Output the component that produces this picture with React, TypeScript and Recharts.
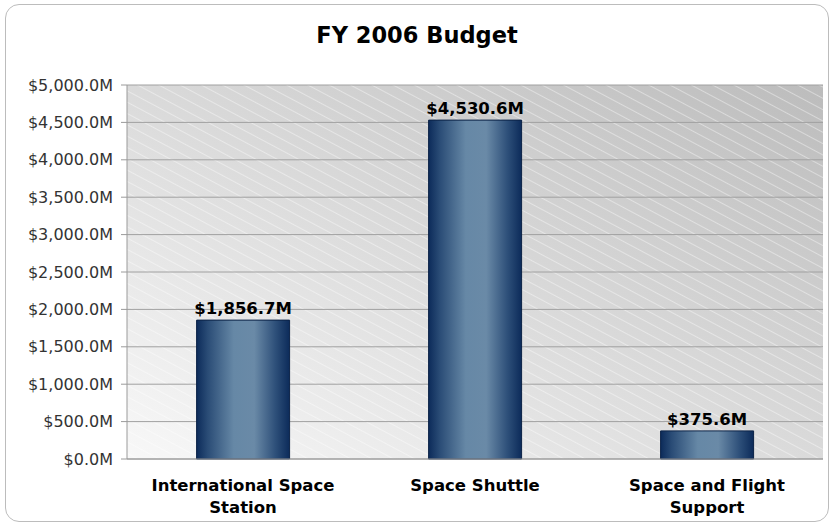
import { BarChart, Bar, XAxis, YAxis, CartesianGrid, LabelList, Text } from 'recharts'

const categories = ['International Space Station', 'Space Shuttle', 'Space and Flight Support']
const budget = [1856.7, 4530.6, 375.6]
const yTicks = [0, 500, 1000, 1500, 2000, 2500, 3000, 3500, 4000, 4500, 5000]
const slotTicks = [0, 1, 2, 3]

const data = categories.map((name, i) => ({ name, budget: budget[i] }))

const sans = '"DejaVu Sans", Verdana, sans-serif'

const money = (v: number) =>
  '$' + v.toLocaleString('en-US', { minimumFractionDigits: 1, maximumFractionDigits: 1 }) + 'M'

function CategoryTick(props: any) {
  const { x, y, payload } = props
  return (
    <Text
      x={x}
      y={y + 12}
      width={210}
      textAnchor="middle"
      verticalAnchor="start"
      lineHeight={22}
      style={{ fontFamily: sans, fontWeight: 'bold', fontSize: 16.5, fill: '#000' }}
    >
      {payload.value}
    </Text>
  )
}

export default function App() {
  return (
    <div style={{ position: 'absolute', left: 0, top: 0, width: 834, height: 527, background: '#fff' }}>
      <div style={{
        position: 'absolute', left: 5, top: 4, width: 822, height: 516,
        border: '1px solid #bcbcbc', borderRadius: 14,
      }} />
      <div style={{
        position: 'absolute', left: 0, top: 20, width: 834, textAlign: 'center',
        fontFamily: sans, fontWeight: 'bold', fontSize: 22.5, lineHeight: '30px', color: '#000',
      }}>
        FY 2006 Budget
      </div>
      <div style={{ position: 'absolute', left: 0, top: 0 }}>
        <BarChart
          width={834}
          height={527}
          data={data}
          margin={{ top: 85, right: 11, bottom: 0, left: 0 }}
          barCategoryGap="30%"
        >
          <defs>
            <linearGradient id="plotBg" x1="0" y1="1" x2="1" y2="0">
              <stop offset="0%" stopColor="#f8f8f8" />
              <stop offset="100%" stopColor="#bcbcbc" />
            </linearGradient>
            <pattern id="hatch" width="10" height="10" patternUnits="userSpaceOnUse" patternTransform="rotate(28)">
              <line x1="0" y1="0.5" x2="10" y2="0.5" stroke="#ffffff" strokeWidth="1" strokeOpacity="0.4" />
            </pattern>
            <linearGradient id="barFill" x1="0" y1="0" x2="1" y2="0">
              <stop offset="0%" stopColor="#0c2b5a" />
              <stop offset="12%" stopColor="#2a4c76" />
              <stop offset="40%" stopColor="#6688a6" />
              <stop offset="62%" stopColor="#6a8aa7" />
              <stop offset="85%" stopColor="#2d4f79" />
              <stop offset="100%" stopColor="#0c2b5a" />
            </linearGradient>
          </defs>
          <CartesianGrid vertical={false} horizontal={false} fill="url(#plotBg)" />
          <CartesianGrid vertical={false} stroke="#a0a0a0" fill="url(#hatch)" fillOpacity={1} />
          <XAxis
            dataKey="name"
            height={68}
            tick={<CategoryTick />}
            tickLine={false}
            axisLine={{ stroke: '#9a9a9a' }}
            interval={0}
          />
          <XAxis
            xAxisId="slots"
            type="number"
            domain={[0, 3]}
            ticks={slotTicks}
            tick={false}
            tickSize={6}
            height={0}
            axisLine={false}
            tickLine={{ stroke: '#9a9a9a' }}
          />
          <YAxis
            width={127}
            domain={[0, 5000]}
            ticks={yTicks}
            tickFormatter={money}
            tickSize={6}
            tickMargin={8}
            axisLine={{ stroke: '#9a9a9a' }}
            tickLine={{ stroke: '#9a9a9a' }}
            tick={{ fontFamily: sans, fontSize: 16, fill: '#333' }}
          />
          <Bar dataKey="budget" fill="url(#barFill)" stroke="#0b2246" strokeWidth={1} isAnimationActive={false}>
            <LabelList
              dataKey="budget"
              position="top"
              offset={6}
              formatter={(v: any) => money(Number(v))}
              style={{ fontFamily: sans, fontWeight: 'bold', fontSize: 16.5, fill: '#000' }}
            />
          </Bar>
        </BarChart>
      </div>
    </div>
  )
}
